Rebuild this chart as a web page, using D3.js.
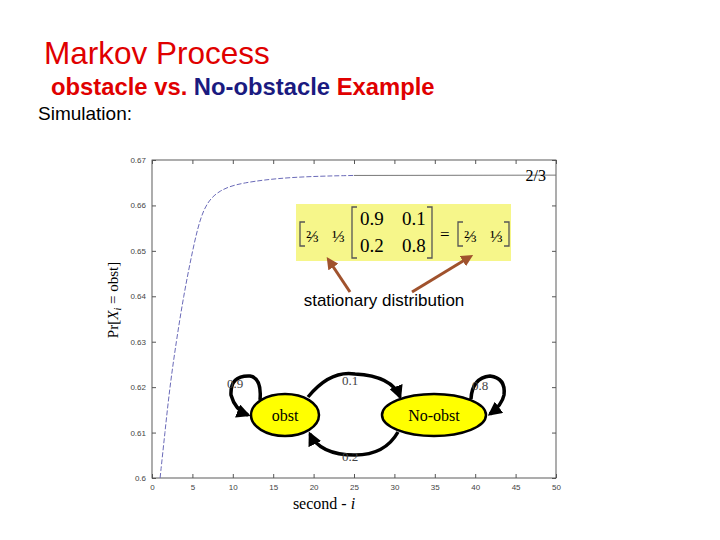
<!DOCTYPE html>
<html><head><meta charset="utf-8">
<script src="https://cdn.jsdelivr.net/npm/d3@7"></script>
<style>body{margin:0;background:#fff}</style>
</head><body>
<svg id="c" width="720" height="540"></svg>
<script>
// values
var steps = [1, 1.6, 2.2, 3, 3.9, 5, 6.3, 8.4, 11, 17, 25, 50];
var prObst = [0.6, 0.61, 0.62, 0.63, 0.64, 0.65, 0.66, 0.6635, 0.665, 0.6663, 0.6666, 0.66667];
var xTicks = [0, 5, 10, 15, 20, 25, 30, 35, 40, 45, 50];
var yTicks = [0.6, 0.61, 0.62, 0.63, 0.64, 0.65, 0.66, 0.67];

var svg = d3.select('#c');
var x = d3.scaleLinear().domain([0, 50]).range([152, 556]);
var y = d3.scaleLinear().domain([0.6, 0.67]).range([478, 160]);

// slide headings
svg.append('text').attr('x', 44).attr('y', 64).attr('font-family', 'Liberation Sans, Arial')
  .attr('font-size', 31.5).attr('fill', '#e00000').text('Markov Process');
var sub = svg.append('text').attr('x', 51).attr('y', 95).attr('font-family', 'Liberation Sans, Arial')
  .attr('font-size', 23.8).attr('font-weight', 'bold');
sub.append('tspan').attr('fill', '#e00000').text('obstacle vs. ');
sub.append('tspan').attr('fill', '#1a1a80').text('No-obstacle');
sub.append('tspan').attr('fill', '#e00000').text(' Example');
svg.append('text').attr('x', 38).attr('y', 120).attr('font-family', 'Liberation Sans, Arial')
  .attr('font-size', 19).text('Simulation:');

// plot frame and axes
svg.append('rect').attr('x', 152).attr('y', 160).attr('width', 404).attr('height', 318)
  .attr('fill', 'none').attr('stroke', '#333').attr('stroke-width', 0.8);
svg.append('g').attr('transform', 'translate(0,478)')
  .call(d3.axisBottom(x).tickValues(xTicks).tickSize(-4).tickPadding(6).tickFormat(d3.format('d')));
svg.append('g').attr('transform', 'translate(152,0)')
  .call(d3.axisLeft(y).tickValues(yTicks).tickSize(-4).tickPadding(6).tickFormat(d => d === 0.6 ? '0.6' : d3.format('.2f')(d)));
svg.append('g').attr('transform', 'translate(556,0)')
  .call(d3.axisRight(y).tickValues(yTicks).tickSize(-4).tickFormat(''));
svg.append('g').attr('transform', 'translate(0,160)')
  .call(d3.axisTop(x).tickValues(xTicks).tickSize(-4).tickFormat(''));
svg.selectAll('.domain').remove();
svg.selectAll('.tick line').attr('stroke', '#555');
svg.selectAll('.tick text').attr('font-family', 'Liberation Sans, Arial').attr('font-size', 8).attr('fill', '#444');

// curve: dashed blue at the start, thin grey solid on the plateau
var pts = steps.map((s, i) => [s, prObst[i]]);
var line = d3.line().x(d => x(d[0])).y(d => y(d[1])).curve(d3.curveBasis);
svg.append('path').datum(pts.filter(d => d[0] <= 25)).attr('d', line)
  .attr('fill', 'none').attr('stroke', '#6a6ab8').attr('stroke-width', 1).attr('stroke-dasharray', '5,2');
svg.append('path').datum(pts.filter(d => d[0] >= 25)).attr('d', line)
  .attr('fill', 'none').attr('stroke', '#777').attr('stroke-width', 1);

var serif = 'Liberation Serif, Times New Roman';
svg.append('text').attr('x', 546).attr('y', 181).attr('text-anchor', 'end')
  .attr('font-family', serif).attr('font-size', 16).text('2/3');

svg.append('text').attr('transform', 'translate(118,300) rotate(-90)').attr('text-anchor', 'middle')
  .attr('font-family', serif).attr('font-size', 15)
  .html('Pr[<tspan font-style="italic">X</tspan><tspan font-size="10" dy="3" font-style="italic">i</tspan><tspan dy="-3"> = obst]</tspan>');
svg.append('text').attr('x', 324).attr('y', 509).attr('text-anchor', 'middle')
  .attr('font-family', serif).attr('font-size', 16)
  .html('second - <tspan font-style="italic">i</tspan>');

// matrix box
svg.append('rect').attr('x', 296).attr('y', 204).attr('width', 215).attr('height', 57).attr('fill', '#f6f68a');
function t(xp, yp, s, fs) {
  return svg.append('text').attr('x', xp).attr('y', yp).attr('font-family', serif).attr('font-size', fs || 19).text(s);
}
function bracket(x0, open, y0, y1, w) {
  var d = open ? `M${x0 + w},${y0}H${x0}V${y1}H${x0 + w}` : `M${x0 - w},${y0}H${x0}V${y1}H${x0 - w}`;
  svg.append('path').attr('d', d).attr('fill', 'none').attr('stroke', '#555').attr('stroke-width', 1.3);
}
bracket(300, true, 222, 246, 5); t(306, 242, '⅔', 17); t(332, 242, '⅓', 17);
bracket(352, true, 207, 258, 5);
t(360, 225, '0.9'); t(402, 225, '0.1'); t(360, 252, '0.2'); t(402, 252, '0.8');
bracket(432, false, 207, 258, 5);
t(440, 240, '=', 17);
bracket(458, true, 222, 246, 5); t(464, 242, '⅔', 17); t(490, 242, '⅓', 17); bracket(509, false, 222, 246, 5);

// brown arrows
svg.append('defs').html('<marker id="ab" viewBox="0 0 10 10" refX="5" refY="5" markerWidth="4" markerHeight="4" orient="auto"><path d="M0,0L10,5L0,10z" fill="#a0522d"/></marker>' +
  '<marker id="ak" viewBox="0 0 10 10" refX="8" refY="5" markerWidth="4" markerHeight="4" orient="auto"><path d="M0,0L10,5L0,10z" fill="#000"/></marker>');
svg.append('line').attr('x1', 350).attr('y1', 292).attr('x2', 330).attr('y2', 262)
  .attr('stroke', '#a0522d').attr('stroke-width', 3).attr('marker-end', 'url(#ab)');
svg.append('line').attr('x1', 412).attr('y1', 292).attr('x2', 468).attr('y2', 258)
  .attr('stroke', '#a0522d').attr('stroke-width', 3).attr('marker-end', 'url(#ab)');
svg.append('text').attr('x', 384).attr('y', 306).attr('text-anchor', 'middle')
  .attr('font-family', 'Liberation Sans, Arial').attr('font-size', 17).text('stationary distribution');

// state diagram
var g = svg.append('g').attr('fill', 'none').attr('stroke', '#000').attr('stroke-width', 3.5);
g.append('path').attr('d', 'M308,397 Q330,370 355,374 Q392,376 400,397').attr('marker-end', 'url(#ak)');
g.append('path').attr('d', 'M398,432 Q385,455 355,455 Q320,455 310,434').attr('marker-end', 'url(#ak)');
g.append('path').attr('d', 'M260,400 Q262,378 250,376 Q230,375 231,395 Q235,410 248,415').attr('marker-end', 'url(#ak)');
g.append('path').attr('d', 'M471,399 Q472,378 490,376 Q506,378 504,395 Q502,405 490,414').attr('marker-end', 'url(#ak)');
svg.append('ellipse').attr('cx', 285).attr('cy', 415).attr('rx', 34).attr('ry', 21)
  .attr('fill', '#ffff00').attr('stroke', '#000').attr('stroke-width', 2.5);
svg.append('ellipse').attr('cx', 434).attr('cy', 415).attr('rx', 52).attr('ry', 21)
  .attr('fill', '#ffff00').attr('stroke', '#000').attr('stroke-width', 2.5);
t(285, 421, 'obst', 16).attr('text-anchor', 'middle');
t(434, 421, 'No-obst', 16).attr('text-anchor', 'middle');
[['0.9', 235, 388], ['0.1', 350, 385], ['0.8', 480, 390], ['0.2', 350, 461]].forEach(function(d) {
  t(d[1], d[2], d[0], 13).attr('text-anchor', 'middle').attr('fill', '#444');
});
</script>
</body></html>
